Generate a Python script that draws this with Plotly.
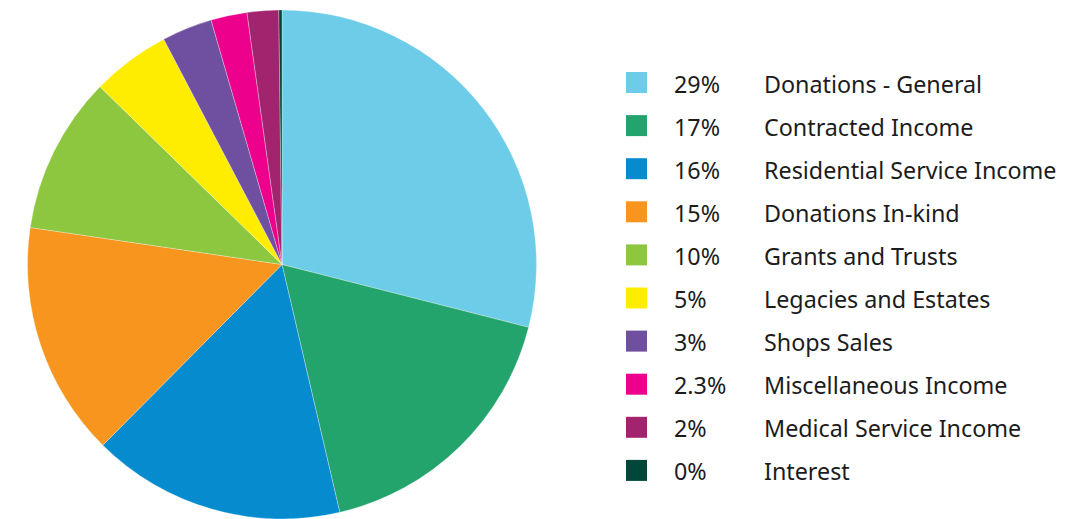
import plotly.graph_objects as go

# ---- data ----
categories = [
    "Donations - General",
    "Contracted Income",
    "Residential Service Income",
    "Donations In-kind",
    "Grants and Trusts",
    "Legacies and Estates",
    "Shops Sales",
    "Miscellaneous Income",
    "Medical Service Income",
    "Interest",
]
values = [29.0, 17.4, 16.1, 14.9, 10.0, 5.0, 3.2, 2.3, 2.0, 0.2]
pct_labels = ["29%", "17%", "16%", "15%", "10%", "5%", "3%", "2.3%", "2%", "0%"]
colors = [
    "#6DCDE8", "#23A46C", "#078BCF", "#F7951E", "#8DC63F",
    "#FFED00", "#6F4F9F", "#EC008C", "#A3246E", "#00473A",
]

# page body has an 8px default margin; size the figure to the remaining view
OFF = 8
W, H = 1074 - OFF, 519 - OFF
FONT = "Noto Sans"
TEXT_COLOR = "#1c1c1c"


def px_x(x):
    return (x - OFF) / W


def px_y(y):
    return 1 - (y - OFF) / H


fig = go.Figure(
    go.Pie(
        labels=categories,
        values=values,
        sort=False,
        direction="clockwise",
        rotation=0,
        marker=dict(colors=colors, line=dict(color="white", width=0.3)),
        textinfo="none",
        hoverinfo="label+percent",
        showlegend=False,
        domain=dict(x=[px_x(27), px_x(537)], y=[0.0, px_y(10)]),
    )
)

# ---- custom legend (positions derived from row index) ----
row0 = 83.5
row_step = 43.1
sq = 21
sq_x0 = 626
pct_x = 672
lab_x = 762
fsize = 23.3
shapes = []
annotations = []
for i, (cat, pct, col) in enumerate(zip(categories, pct_labels, colors)):
    yc = row0 + i * row_step
    ys = yc - 1
    shapes.append(dict(
        type="rect", xref="paper", yref="paper",
        x0=px_x(sq_x0), x1=px_x(sq_x0 + sq),
        y0=px_y(ys + sq / 2), y1=px_y(ys - sq / 2),
        fillcolor=col, line=dict(width=0),
    ))
    annotations.append(dict(
        xref="paper", yref="paper", x=px_x(pct_x), y=px_y(yc),
        xanchor="left", yanchor="middle", text=pct, showarrow=False,
        font=dict(family=FONT, size=fsize, color=TEXT_COLOR),
    ))
    annotations.append(dict(
        xref="paper", yref="paper", x=px_x(lab_x), y=px_y(yc),
        xanchor="left", yanchor="middle", text=cat, showarrow=False,
        font=dict(family=FONT, size=fsize, color=TEXT_COLOR),
    ))

fig.update_layout(
    width=W, height=H,
    margin=dict(l=0, r=0, t=0, b=0),
    paper_bgcolor="white",
    plot_bgcolor="white",
    shapes=shapes,
    annotations=annotations,
)

fig.write_html("out.html")
